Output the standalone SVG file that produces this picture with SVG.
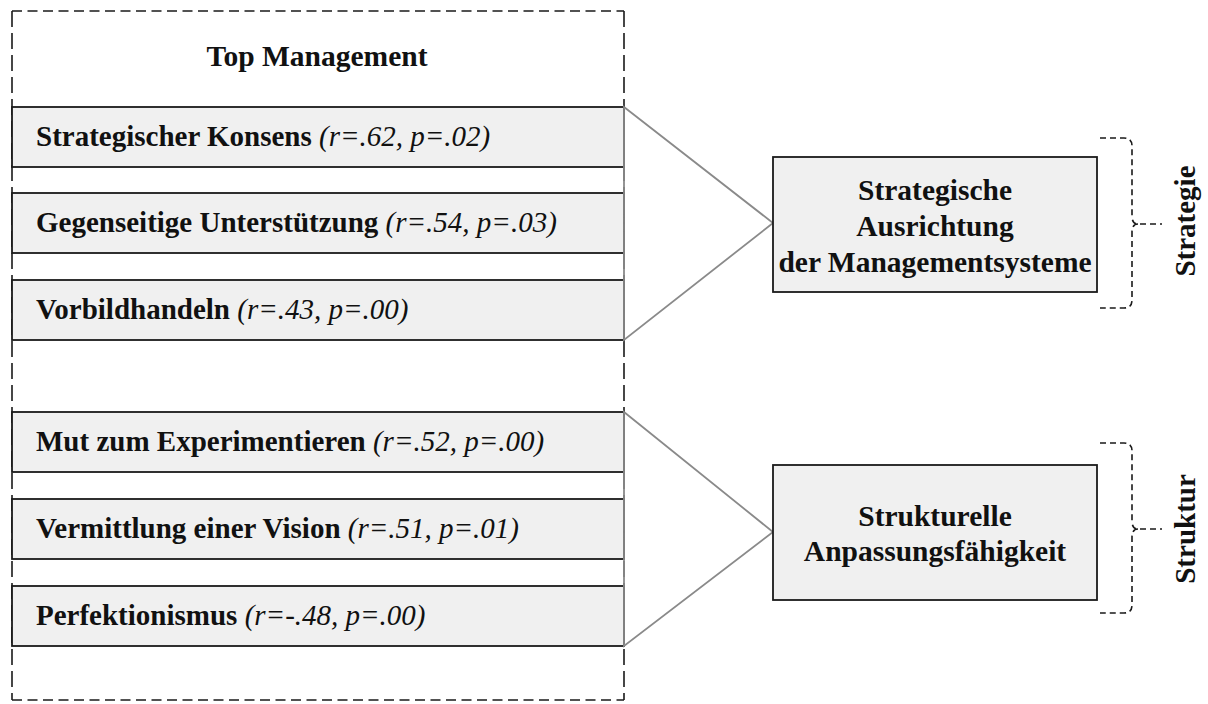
<svg xmlns="http://www.w3.org/2000/svg" width="1208" height="704" viewBox="0 0 1208 704">
  <style>
    text { font-family: "Liberation Serif", "Times New Roman", serif; font-size: 29px; fill: #111; }
    .b { font-weight: bold; }
    .i { font-style: italic; font-weight: normal; }
    .big { font-size: 29.5px; }
    .item { fill: #f0f0f0; stroke: #1a1a1a; stroke-width: 1.8; }
    .target { fill: #f0f0f0; stroke: #1a1a1a; stroke-width: 1.8; }
    .outer-h { stroke: #1a1a1a; stroke-width: 1.6; stroke-dasharray: 10 5.5; fill: none; }
    .outer-v { stroke: #1a1a1a; stroke-width: 1.6; stroke-dasharray: 16 6; fill: none; }
    .conn { fill: none; stroke: #8a8a8a; stroke-width: 1.8; stroke-linejoin: miter; }
    .brace { fill: none; stroke: #1a1a1a; stroke-width: 1.6; stroke-dasharray: 6 4; }
  </style>
  <rect width="1208" height="704" fill="#ffffff"/>

  <g id="top-management">
    <line class="outer-h" x1="12" y1="11" x2="624" y2="11"/>
    <line class="outer-h" x1="12" y1="700" x2="624" y2="700"/>
    <line class="outer-v" x1="12" y1="11" x2="12" y2="700"/>
    <line class="outer-v" x1="624" y1="11" x2="624" y2="700"/>
    <text class="b big" x="317" y="66" text-anchor="middle">Top Management</text>
  </g>

  <g id="item-konsens">
    <rect class="item" x="12" y="107" width="612" height="60"/>
    <text x="36" y="146"><tspan class="b">Strategischer Konsens </tspan><tspan class="i">(r=.62, p=.02)</tspan></text>
  </g>
  <g id="item-unterstuetzung">
    <rect class="item" x="12" y="193" width="612" height="60"/>
    <text x="36" y="232"><tspan class="b">Gegenseitige Unterstützung </tspan><tspan class="i">(r=.54, p=.03)</tspan></text>
  </g>
  <g id="item-vorbild">
    <rect class="item" x="12" y="280" width="612" height="60"/>
    <text x="36" y="319"><tspan class="b">Vorbildhandeln </tspan><tspan class="i">(r=.43, p=.00)</tspan></text>
  </g>
  <g id="item-mut">
    <rect class="item" x="12" y="412" width="612" height="60"/>
    <text x="36" y="451"><tspan class="b">Mut zum Experimentieren </tspan><tspan class="i">(r=.52, p=.00)</tspan></text>
  </g>
  <g id="item-vision">
    <rect class="item" x="12" y="499" width="612" height="60"/>
    <text x="36" y="538"><tspan class="b">Vermittlung einer Vision </tspan><tspan class="i">(r=.51, p=.01)</tspan></text>
  </g>
  <g id="item-perfektion">
    <rect class="item" x="12" y="586" width="612" height="60"/>
    <text x="36" y="625"><tspan class="b">Perfektionismus </tspan><tspan class="i">(r=-.48, p=.00)</tspan></text>
  </g>

  <g id="connectors">
    <path class="conn" d="M624,107 L773,223 L624,340 Z"/>
    <path class="conn" d="M624,412 L773,532 L624,646 Z"/>
  </g>

  <g id="strategie-box">
    <rect class="target" x="773" y="157" width="324" height="135"/>
    <text class="b big" x="935" y="200" text-anchor="middle">Strategische</text>
    <text class="b big" x="935" y="236" text-anchor="middle">Ausrichtung</text>
    <text class="b big" x="935" y="272" text-anchor="middle">der Managementsysteme</text>
  </g>

  <g id="struktur-box">
    <rect class="target" x="773" y="465" width="324" height="135"/>
    <text class="b big" x="935" y="526" text-anchor="middle">Strukturelle</text>
    <text class="b big" x="935" y="561" text-anchor="middle">Anpassungsfähigkeit</text>
  </g>

  <g id="strategie-brace">
    <path class="brace" d="M1100,138 L1124,138 Q1132,138 1132,146 L1132,216 Q1132,224 1138,224 M1140,224 L1162,224 M1138,224 Q1132,224 1132,232 L1132,300 Q1132,308 1124,308 L1100,308"/>
    <text class="b" transform="translate(1195,221) rotate(-90)" text-anchor="middle">Strategie</text>
  </g>

  <g id="struktur-brace">
    <path class="brace" d="M1100,443 L1124,443 Q1132,443 1132,451 L1132,521 Q1132,529 1138,529 M1140,529 L1162,529 M1138,529 Q1132,529 1132,537 L1132,605 Q1132,613 1124,613 L1100,613"/>
    <text class="b" transform="translate(1195,529) rotate(-90)" text-anchor="middle">Struktur</text>
  </g>
</svg>
